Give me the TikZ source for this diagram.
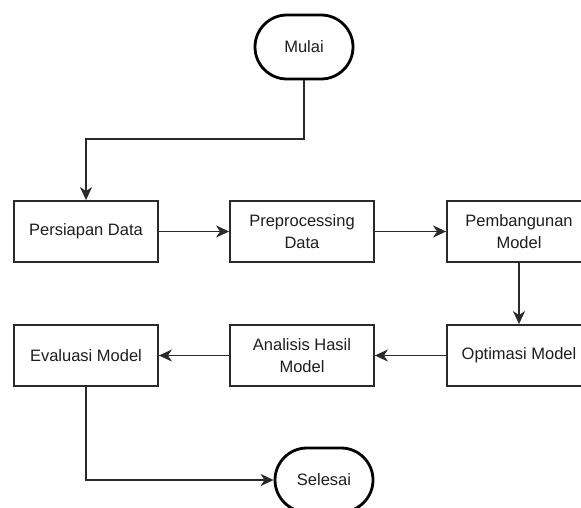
\documentclass[tikz,border=0pt]{standalone}
\usepackage{fontspec}
\setmainfont{Liberation Sans}
\usetikzlibrary{arrows.meta,shapes.misc}

\definecolor{ink}{HTML}{1E1E1E}
\definecolor{edge}{HTML}{2A2A2A}

\tikzset{
  procbox/.style={draw=edge, line width=1.8pt, rectangle, minimum width=144pt,
    minimum height=61pt, inner sep=2pt, align=center, text=ink,
    font=\fontsize{16.5}{21.5}\selectfont},
  terminal/.style={draw=black, line width=2.8pt, rounded rectangle,
    minimum width=102pt, minimum height=64pt, inner sep=2pt, text=ink,
    font=\fontsize{16.5}{21.5}\selectfont},
  flow/.style={draw=edge, line width=1.8pt,
    -{Stealth[length=13pt,width=12pt,inset=4pt]}},
}

\begin{document}
\begin{tikzpicture}[x=1pt,y=-1pt]
  \clip (0,0) rectangle (581,508);
  \fill[white] (0,0) rectangle (581,508);

  % start / end terminals
  \node[terminal] (mulai)   at (304,47)  {Mulai};
  \node[terminal] (selesai) at (324,480) {Selesai};

  % upper row of process steps
  \node[procbox] (persiapan)   at (86,231.5)  {Persiapan Data};
  \node[procbox] (preproc)     at (302,231.5) {Preprocessing\\Data};
  \node[procbox] (pembangunan) at (519,231.5) {Pembangunan\\Model};

  % lower row of process steps
  \node[procbox] (evaluasi) at (86,355.5)  {Evaluasi Model};
  \node[procbox] (analisis) at (302,355.5) {Analisis Hasil\\Model};
  \node[procbox] (optimasi) at (519,355.5) {Optimasi Model};

  % connectors
  \coordinate (bend) at (86,139);
  \draw[flow] (mulai.south) |- (bend) -- (persiapan.north);
  \draw[flow] (persiapan.east) -- (preproc.west);
  \draw[flow] (preproc.east) -- (pembangunan.west);
  \draw[flow] (pembangunan.south) -- (optimasi.north);
  \draw[flow] (optimasi.west) -- (analisis.east);
  \draw[flow] (analisis.west) -- (evaluasi.east);
  \draw[flow] (evaluasi.south) |- (selesai.west);
\end{tikzpicture}
\end{document}
